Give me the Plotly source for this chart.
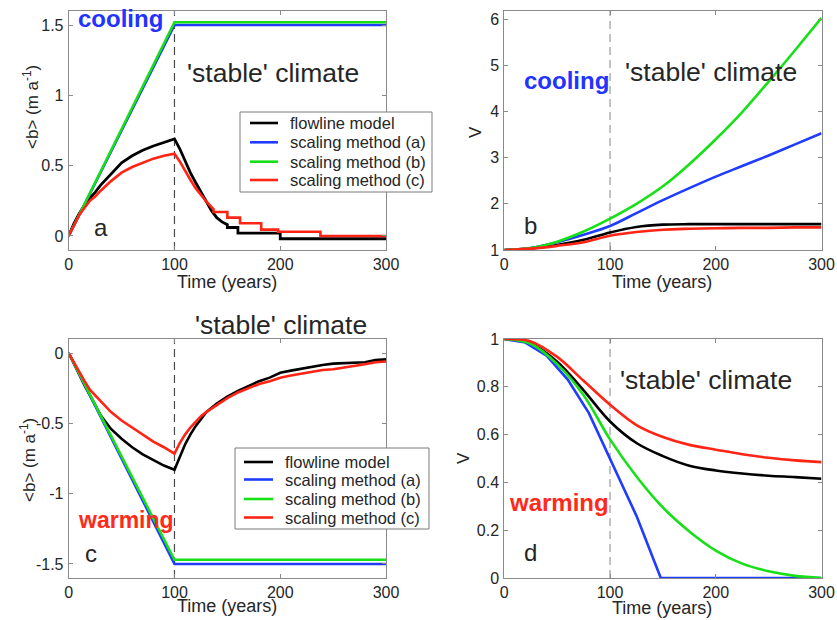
import plotly.graph_objects as go

W, H = 837, 620

# ---------------- data ----------------
series_names = ["flowline model", "scaling method (a)", "scaling method (b)", "scaling method (c)"]
series_colors = ["#000000", "#1f3cff", "#18e018", "#ff2414"]

# (a) mean specific balance <b>, cooling scenario
t_a_ramp = [0, 100, 300]
a_scal_a = [0, 1.50, 1.50]
a_scal_b = [0, 1.52, 1.52]
t_a_flow = [0, 5, 10, 15, 20, 25, 30, 40, 50, 60, 70, 80, 90, 100,
            105, 110, 115, 120, 125, 130, 135, 140, 145, 150, 150, 160, 160, 200, 200, 300]
a_flow = [0, 0.09, 0.16, 0.22, 0.27, 0.31, 0.36, 0.44, 0.52, 0.57, 0.61, 0.64, 0.665, 0.69,
          0.62, 0.53, 0.45, 0.38, 0.31, 0.24, 0.18, 0.13, 0.10, 0.08, 0.06, 0.06, 0.02, 0.02, -0.02, -0.02]
t_a_scal_c = [0, 5, 10, 15, 20, 25, 30, 40, 50, 60, 70, 80, 90, 100,
              105, 110, 115, 120, 125, 130, 137, 137, 150, 150, 162, 162, 182, 182, 198, 198, 238, 238, 300]
a_scal_c = [0, 0.08, 0.15, 0.20, 0.25, 0.28, 0.32, 0.39, 0.45, 0.49, 0.52, 0.55, 0.57, 0.585,
            0.53, 0.46, 0.40, 0.34, 0.29, 0.245, 0.19, 0.17, 0.17, 0.13, 0.13, 0.09, 0.09, 0.045, 0.045, 0.03, 0.03, 0.0, 0.0]

# (b) normalised volume V, cooling scenario
t_b = [0, 25, 50, 75, 100, 125, 150, 175, 200, 225, 250, 275, 300]
b_flow = [1, 1.03, 1.11, 1.22, 1.38, 1.50, 1.55, 1.56, 1.56, 1.56, 1.56, 1.56, 1.56]
b_scal_a = [1, 1.04, 1.17, 1.33, 1.52, 1.80, 2.08, 2.34, 2.59, 2.82, 3.05, 3.29, 3.53]
b_scal_b = [1, 1.04, 1.18, 1.40, 1.68, 2.00, 2.38, 2.86, 3.40, 3.99, 4.65, 5.33, 6.03]
b_scal_c = [1, 1.03, 1.09, 1.17, 1.31, 1.39, 1.44, 1.46, 1.47, 1.48, 1.48, 1.49, 1.49]

# (c) mean specific balance <b>, warming scenario
t_c_ramp = [0, 100, 300]
c_scal_a = [0, -1.50, -1.50]
c_scal_b = [0, -1.47, -1.47]
t_c_flow = [0, 5, 10, 15, 20, 25, 30, 35, 40, 50, 60, 70, 80, 90, 100,
            105, 110, 115, 120, 125, 130, 140, 150, 160, 170, 180, 190, 200,
            210, 220, 230, 240, 250, 260, 270, 280, 290, 300]
c_flow = [0, -0.08, -0.155, -0.23, -0.30, -0.37, -0.44, -0.49, -0.54, -0.61, -0.67, -0.72, -0.76, -0.80, -0.83,
          -0.74, -0.65, -0.58, -0.52, -0.47, -0.42, -0.36, -0.31, -0.27, -0.235, -0.20, -0.175, -0.14,
          -0.125, -0.11, -0.095, -0.085, -0.075, -0.072, -0.07, -0.065, -0.05, -0.045]
t_c_scal_c = [0, 5, 10, 15, 20, 25, 30, 40, 50, 60, 70, 80, 90, 100,
              105, 110, 115, 120, 125, 130, 140, 150, 160, 170, 180, 190, 200,
              210, 220, 230, 240, 250, 260, 270, 280, 290, 300]
c_scal_c = [0, -0.07, -0.14, -0.20, -0.26, -0.30, -0.34, -0.42, -0.48, -0.53, -0.58, -0.63, -0.67, -0.715,
            -0.64, -0.58, -0.53, -0.49, -0.45, -0.42, -0.37, -0.32, -0.28, -0.25, -0.22, -0.20, -0.175,
            -0.16, -0.145, -0.13, -0.12, -0.115, -0.105, -0.095, -0.08, -0.065, -0.06]

# (d) normalised volume V, warming scenario
t_d = [0, 25, 50, 75, 100, 125, 150, 175, 200, 225, 250, 275, 300]
d_flow = [1, 0.98, 0.905, 0.785, 0.655, 0.565, 0.51, 0.47, 0.45, 0.437, 0.428, 0.422, 0.415]
d_scal_b = [1, 0.98, 0.895, 0.765, 0.58, 0.425, 0.295, 0.195, 0.115, 0.06, 0.028, 0.009, 0.0]
d_scal_c = [1, 0.99, 0.925, 0.825, 0.725, 0.64, 0.59, 0.557, 0.537, 0.518, 0.503, 0.492, 0.485]
t_d_scal_a = [0, 20, 40, 60, 80, 100, 125, 148, 300]
d_scal_a = [1, 0.985, 0.93, 0.83, 0.69, 0.50, 0.26, 0.0, 0.0]

x_ticks = [0, 100, 200, 300]
step_year = 100

# ---------------- layout helpers ----------------
def px(x):
    return x / W


def py(y):
    return 1 - y / H


FONT = "Liberation Sans, Arial, sans-serif"
AXIS_GRAY = "#8a8a8a"
TEXT = "#262626"

# axes boxes in pixels: (left, right), (top, bottom)
cols = [(68.7, 386.0), (504.3, 821.5)]
rows = [(11.0, 250.0), (339.0, 578.0)]

panels = [
    # name, col, row, yrange, yticks, yticktext, dash colour
    ("a", 0, 0, [-0.1, 1.6], [0, 0.5, 1, 1.5], ["0", "0.5", "1", "1.5"], "#4a4a4a"),
    ("b", 1, 0, [1, 6.18], [1, 2, 3, 4, 5, 6], ["1", "2", "3", "4", "5", "6"], "#9a9a9a"),
    ("c", 0, 1, [-1.6, 0.1], [-1.5, -1, -0.5, 0], ["-1.5", "-1", "-0.5", "0"], "#4a4a4a"),
    ("d", 1, 1, [0, 1], [0, 0.2, 0.4, 0.6, 0.8, 1], ["0", "0.2", "0.4", "0.6", "0.8", "1"], "#9a9a9a"),
]

fig = go.Figure()
layout = dict(
    template="none",
    width=W, height=H,
    margin=dict(l=0, r=0, t=0, b=0, pad=0),
    paper_bgcolor="white", plot_bgcolor="white",
    showlegend=False,
    font=dict(family=FONT, color=TEXT, size=15),
)
shapes = []
annotations = []

for i, (name, c, r, yr, yt, ytt, dash_col) in enumerate(panels):
    k = "" if i == 0 else str(i + 1)
    x0, x1 = cols[c]
    y0, y1 = rows[r]
    common = dict(
        automargin=False,
        showline=True, linecolor=AXIS_GRAY, linewidth=1, mirror="ticks",
        ticks="inside", ticklen=4, tickcolor=AXIS_GRAY, tickwidth=1,
        showgrid=False, zeroline=False,
        tickfont=dict(family=FONT, size=16, color=TEXT),
    )
    layout["xaxis" + k] = dict(
        domain=[px(x0), px(x1)], anchor="y" + k, range=[0, 300],
        tickmode="array", tickvals=x_ticks, ticktext=[str(v) for v in x_ticks],
        ticklabelstandoff=0, **common)
    layout["yaxis" + k] = dict(
        domain=[py(y1), py(y0)], anchor="x" + k, range=yr,
        tickmode="array", tickvals=yt, ticktext=ytt, ticklabelstandoff=1, **common)
    shapes.append(dict(
        type="line", xref="x" + k, yref="y" + k + " domain",
        x0=step_year, x1=step_year, y0=0, y1=1,
        line=dict(color=dash_col, width=1.2, dash="8px,5px"), layer="below"))

# ---------------- traces ----------------
def add(x, y, color, k, width=2.6, shape="linear"):
    fig.add_trace(go.Scatter(
        x=x, y=y, mode="lines", xaxis="x" + k, yaxis="y" + k,
        line=dict(color=color, width=width, shape=shape),
        hoverinfo="skip"))

blk, blu, grn, red = series_colors
# (a)
add(t_a_flow, a_flow, blk, "", 2.8)
add(t_a_ramp, a_scal_a, blu, "", 2.6)
add(t_a_ramp, a_scal_b, grn, "", 2.6)
add(t_a_scal_c, a_scal_c, red, "", 2.6)
# (b)
add(t_b, b_flow, blk, "2", 2.6, "spline")
add(t_b, b_scal_a, blu, "2", 2.6, "spline")
add(t_b, b_scal_b, grn, "2", 2.6, "spline")
add(t_b, b_scal_c, red, "2", 2.6, "spline")
# (c)
add(t_c_flow, c_flow, blk, "3", 2.6)
add(t_c_ramp, c_scal_a, blu, "3", 2.6)
add(t_c_ramp, c_scal_b, grn, "3", 2.6)
add(t_c_scal_c, c_scal_c, red, "3", 2.6)
# (d)
add(t_d, d_flow, blk, "4", 2.6, "spline")
add(t_d_scal_a, d_scal_a, blu, "4", 2.6)
add(t_d, d_scal_b, grn, "4", 2.6, "spline")
add(t_d, d_scal_c, red, "4", 2.6, "spline")

# ---------------- text ----------------
def text(x, y, s, size, color=TEXT, bold=False, xanchor="left", angle=0):
    annotations.append(dict(
        x=px(x), y=py(y), xref="paper", yref="paper", text=s, showarrow=False,
        xanchor=xanchor, yanchor="middle", textangle=angle,
        font=dict(family=FONT, size=size, color=color,
                  weight="bold" if bold else "normal")))

STABLE = "'stable' climate"
text(76, 19, "cooling", 24, "#2233ff", True)
text(185, 73, STABLE, 26.5)
text(92, 227, "a", 24)
text(522, 80, "cooling", 24, "#2233ff", True)
text(623, 72, STABLE, 26.5)
text(522, 225, "b", 24)
text(193, 325, STABLE, 26.5)
text(76, 520, "warming", 23, "#ff2a1a", True)
text(83, 553, "c", 24)
text(618, 380, STABLE, 26.5)
text(507, 502, "warming", 24, "#ff2a1a", True)
text(522, 552, "d", 24)

# axis titles
text(227, 282, "Time (years)", 18, xanchor="center")
text(662, 282, "Time (years)", 18, xanchor="center")
text(227, 606, "Time (years)", 18, xanchor="center")
text(662, 608, "Time (years)", 18, xanchor="center")
ylab = "&lt;b&gt; (m a<sup>-1</sup>)"
text(31, 107, ylab, 17, xanchor="center", angle=-90)
text(28, 460, ylab, 17, xanchor="center", angle=-90)
text(475, 132, "V", 17, xanchor="center", angle=-90)
text(463, 458, "V", 17, xanchor="center", angle=-90)

# ---------------- legends ----------------
def legend(box, line_x, text_x, row_y):
    bx0, bx1, by0, by1 = box
    shapes.append(dict(type="rect", xref="paper", yref="paper",
                       x0=px(bx0), x1=px(bx1), y0=py(by1), y1=py(by0),
                       line=dict(color="#7a7a7a", width=1), fillcolor="white", layer="above"))
    for name, col, yy in zip(series_names, series_colors, row_y):
        shapes.append(dict(type="line", xref="paper", yref="paper",
                           x0=px(line_x[0]), x1=px(line_x[1]), y0=py(yy), y1=py(yy),
                           line=dict(color=col, width=2.6), layer="above"))
        text(text_x, yy, name, 16.5)

legend((240, 432, 112, 192), (250, 278), 288, [123, 142.3, 161.7, 180])
legend((235, 429, 448, 529), (244, 273), 283, [462, 479.5, 499, 517.5])

layout["shapes"] = shapes
layout["annotations"] = annotations
fig.update_layout(**layout)
fig.write_html("out.html")
